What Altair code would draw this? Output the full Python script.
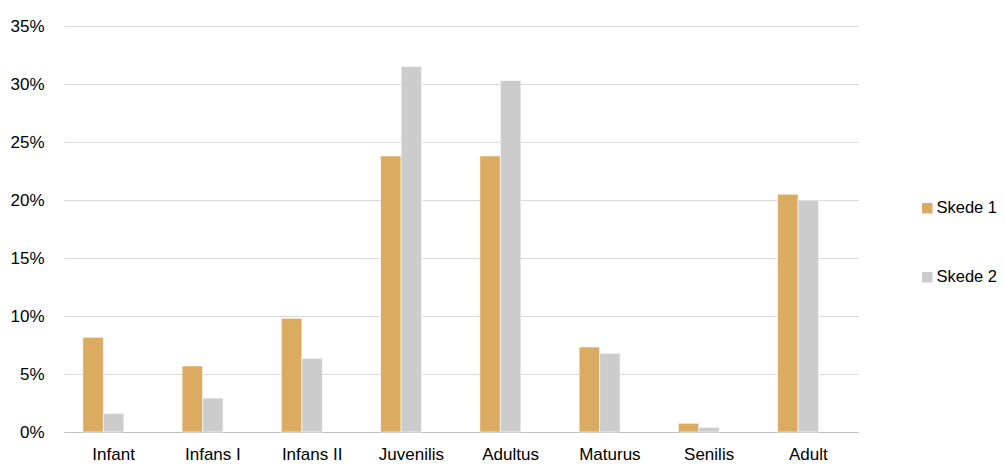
import altair as alt
import pandas as pd

categories = ["Infant", "Infans I", "Infans II", "Juvenilis", "Adultus", "Maturus", "Senilis", "Adult"]
skede1 = [0.0816, 0.0569, 0.098, 0.238, 0.238, 0.0733, 0.0075, 0.205]
skede2 = [0.016, 0.0293, 0.0635, 0.315, 0.303, 0.0678, 0.004, 0.200]
series = ["Skede 1", "Skede 2"]
colors = ["#DAAB61", "#CCCCCC"]

rows = []
for c, a, b in zip(categories, skede1, skede2):
    rows.append({"cat": c, "serie": series[0], "val": a})
    rows.append({"cat": c, "serie": series[1], "val": b})
df = pd.DataFrame(rows)

FONT = "Liberation Sans"

chart = alt.Chart(df).mark_bar(stroke="white", strokeWidth=0.6).encode(
    x=alt.X("cat:N", sort=categories, title=None,
            scale=alt.Scale(paddingInner=0.38, paddingOuter=0.19),
            axis=alt.Axis(labelAngle=0, ticks=False, domainColor="#BFBFBF",
                          labelPadding=14, labelFontSize=17, labelFont=FONT,
                          labelColor="#000000")),
    xOffset=alt.XOffset("serie:N", scale=alt.Scale(domain=["Skede 1", "Skede 2", "Skede 3"])),
    y=alt.Y("val:Q", title=None,
            scale=alt.Scale(domain=[0, 0.35], nice=False),
            axis=alt.Axis(format=".0%", values=[0, 0.05, 0.1, 0.15, 0.2, 0.25, 0.3, 0.35],
                          domain=False, ticks=False, gridColor="#D9D9D9",
                          labelPadding=20, labelFontSize=17, labelFont=FONT,
                          labelColor="#000000")),
    color=alt.Color("serie:N", title=None,
                    scale=alt.Scale(domain=series, range=colors),
                    legend=alt.Legend(orient="none", legendX=855, legendY=174,
                                      symbolType="square", symbolSize=110,
                                      symbolStrokeWidth=0,
                                      labelFontSize=16.5, labelFont=FONT,
                                      labelColor="#000000", rowPadding=52,
                                      labelOffset=1, labelLimit=300)),
).properties(
    width=794, height=406,
    autosize=alt.AutoSizeParams(type="none"),
    padding={"left": 56, "top": 18, "right": 139, "bottom": 34},
).configure_view(stroke=None)

chart.save("out.html", embed_options={"renderer": "svg", "actions": False})
